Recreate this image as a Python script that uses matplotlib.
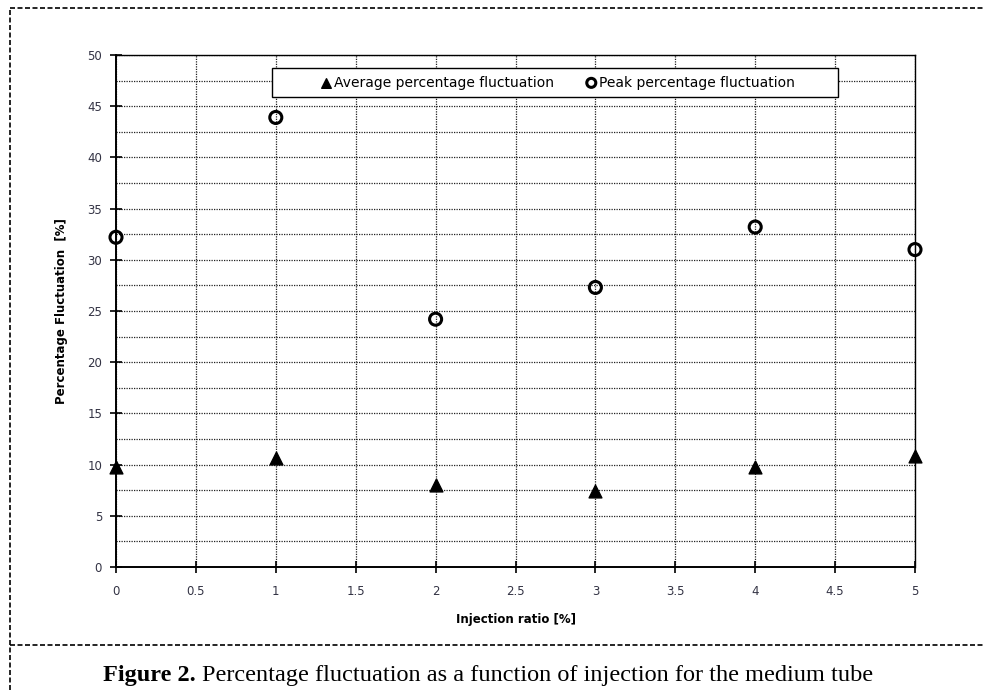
import numpy as np
import matplotlib
matplotlib.use("Agg")
import matplotlib.pyplot as plt
from matplotlib.lines import Line2D
from matplotlib.patches import Rectangle
from matplotlib.ticker import MultipleLocator

# values
injection_ratio = [0, 1, 2, 3, 4, 5]
avg_fluct = [9.8, 10.6, 8.0, 7.4, 9.8, 10.8]
peak_fluct = [32.2, 43.9, 24.2, 27.3, 33.2, 31.0]

x_ticks = [0, 0.5, 1, 1.5, 2, 2.5, 3, 3.5, 4, 4.5, 5]
x_tick_labels = ["0", "0.5", "1", "1.5", "2", "2.5", "3", "3.5", "4", "4.5", "5"]
y_ticks = [0, 5, 10, 15, 20, 25, 30, 35, 40, 45, 50]

W, H = 984, 690
fig = plt.figure(figsize=(W / 100, H / 100), dpi=100)
ax = fig.add_axes([116 / W, 1 - 567 / H, (915 - 116) / W, (567 - 55) / H])

ax.scatter(injection_ratio, avg_fluct, marker="^", s=85, c="black",
           label="Average percentage fluctuation", zorder=3, clip_on=False)
ax.scatter(injection_ratio, peak_fluct, marker="o", s=75, facecolors="none",
           edgecolors="black", linewidths=2.2,
           label="Peak percentage fluctuation", zorder=3, clip_on=False)

ax.set_xlim(0, 5)
ax.set_ylim(0, 50)
ax.set_xticks(x_ticks)
ax.set_xticklabels(x_tick_labels)
ax.set_yticks(y_ticks)
ax.yaxis.set_minor_locator(MultipleLocator(2.5))
ax.tick_params(axis="both", which="major", direction="inout", length=8,
               width=1.2, labelsize=8.5, colors="black", pad=6)
ax.tick_params(axis="y", which="minor", length=0)
ax.tick_params(axis="x", pad=9)
for lab in ax.get_xticklabels() + ax.get_yticklabels():
    lab.set_color("#333344")

ax.grid(True, which="both", linestyle=(0, (1, 1)), color="#222222", linewidth=0.9)
ax.set_axisbelow(True)
for side in ["left", "bottom"]:
    ax.spines[side].set_linewidth(1.4)
for side in ["top", "right"]:
    ax.spines[side].set_linewidth(1.0)

ax.set_xlabel("Injection ratio [%]", fontsize=8.5, fontweight="bold", labelpad=11)
ax.set_ylabel("Percentage Fluctuation  [%]", fontsize=8.5, fontweight="bold", labelpad=14)

# legend box drawn separately so its padding matches the reference
ax.add_patch(Rectangle((272 / W, 1 - 97 / H), (838 - 272) / W, (97 - 68) / H,
                       transform=fig.transFigure, facecolor="white",
                       edgecolor="black", linewidth=1.0, zorder=4))
leg = ax.legend(loc="center", bbox_to_anchor=(557 / W, 1 - 82.5 / H),
                bbox_transform=fig.transFigure, ncol=2, fontsize=10,
                frameon=False, handletextpad=0.05, columnspacing=2.2,
                handlelength=1.0, markerscale=0.75, borderpad=0, borderaxespad=0)
leg.set_zorder(5)

# dashed frame around the figure and caption
dash = dict(color="black", linewidth=1.2, linestyle=(0, (3, 1.5)))
fig.add_artist(Line2D([10 / W, 1.0], [1 - 8 / H, 1 - 8 / H], transform=fig.transFigure, **dash))
fig.add_artist(Line2D([10 / W, 10 / W], [0, 1 - 8 / H], transform=fig.transFigure, **dash))
fig.add_artist(Line2D([10 / W, 1.0], [1 - 645 / H, 1 - 645 / H], transform=fig.transFigure, **dash))

cap_y = 1 - 676 / H
t1 = fig.text(103 / W, cap_y, "Figure 2.", fontsize=17.5, fontweight="bold",
              family="Liberation Serif", va="center", ha="left")
fig.canvas.draw()
bb = t1.get_window_extent()
fig.text((bb.x1 + 6) / fig.bbox.width, cap_y,
         "Percentage fluctuation as a function of injection for the medium tube",
         fontsize=17.5, family="Liberation Serif", va="center", ha="left")

fig.savefig("out.png", dpi=100)
